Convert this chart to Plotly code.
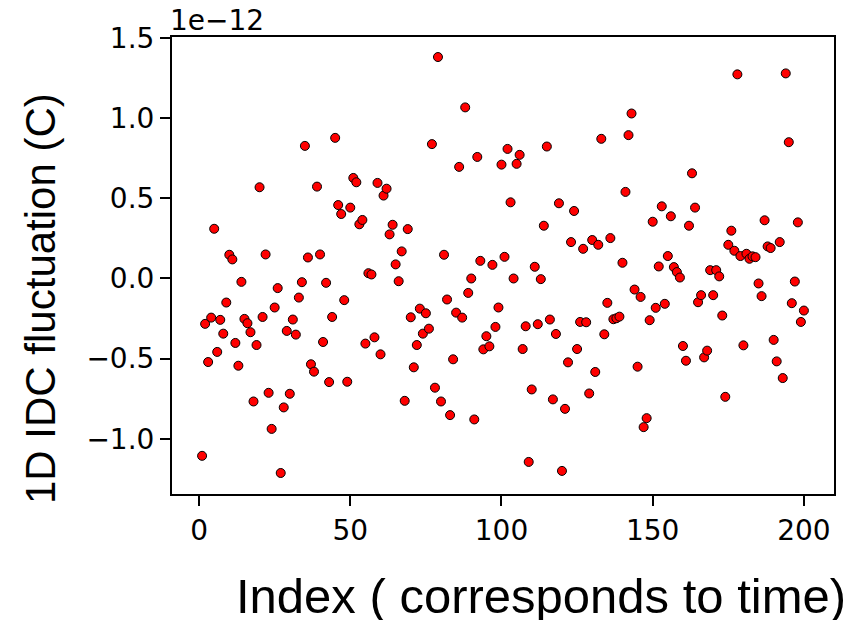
import plotly.graph_objects as go

# index (1..200) and fluctuation values in units of 1e-12 C
index = list(range(1, 201))
fluct = [
    -1.106, -0.283, -0.521, -0.244, 0.310, -0.458, -0.258, -0.344, -0.150, 0.148,
    0.119, -0.402, -0.544, -0.021, -0.252, -0.279, -0.335, -0.767, -0.415, 0.569,
    -0.240, 0.150, -0.713, -0.938, -0.181, -0.060, -1.213, -0.804, -0.327, -0.719,
    -0.256, -0.350, -0.119, -0.023, 0.827, 0.131, -0.535, -0.581, 0.573, 0.150,
    -0.396, -0.027, -0.646, -0.240, 0.877, 0.458, 0.402, -0.135, -0.644, 0.442,
    0.627, 0.600, 0.338, 0.365, -0.406, 0.033, 0.025, -0.367, 0.596, -0.473,
    0.517, 0.560, 0.275, 0.335, 0.088, -0.017, 0.169, -0.763, 0.308, -0.242,
    -0.554, -0.415, -0.188, -0.344, -0.217, -0.313, 0.838, -0.681, 1.381, -0.767,
    0.148, -0.131, -0.852, -0.504, -0.213, 0.696, -0.244, 1.067, -0.090, 0.000,
    -0.879, 0.758, 0.110, -0.442, -0.360, -0.423, 0.085, -0.302, -0.181, 0.710,
    0.135, 0.808, 0.475, 0.000, 0.715, 0.771, -0.440, -0.298, -1.144, -0.692,
    0.073, -0.285, -0.004, 0.329, 0.823, -0.256, -0.754, -0.346, 0.469, -1.200,
    -0.813, -0.523, 0.227, 0.421, -0.440, -0.271, 0.185, -0.273, -0.717, 0.240,
    -0.583, 0.210, 0.871, -0.348, -0.152, 0.252, -0.254, -0.248, -0.238, 0.098,
    0.540, 0.894, 1.029, -0.069, -0.550, -0.115, -0.927, -0.871, -0.260, 0.354,
    -0.183, 0.075, 0.450, -0.158, 0.140, 0.388, 0.071, 0.040, 0.006, -0.421,
    -0.513, 0.329, 0.656, 0.442, -0.148, -0.104, -0.492, -0.450, 0.052, -0.104,
    0.052, 0.013, -0.231, -0.738, 0.210, 0.298, 0.173, 1.273, 0.140, -0.417,
    0.154, 0.123, 0.138, 0.133, -0.031, -0.110, 0.363, 0.200, 0.190, -0.383,
    -0.517, 0.227, -0.621, 1.279, 0.850, -0.154, -0.019, 0.350, -0.271, -0.200,
]

x_ticks = [0, 50, 100, 150, 200]
y_ticks = [-1.0, -0.5, 0.0, 0.5, 1.0, 1.5]
x_title = "Index ( corresponds to time)"
y_title = "1D IDC fluctuation (C)"
scale_text = "1e\u221212"

fig = go.Figure()
fig.add_trace(go.Scatter(
    x=index, y=fluct, mode="markers",
    marker=dict(color="#ff0000", size=9, line=dict(color="black", width=1)),
    showlegend=False,
))

W, H = 863, 620
L, R, T, B = 172, 29, 37, 126
tickfont = dict(family="DejaVu Sans", size=28, color="black")
titlefont = "Liberation Sans"

fig.update_layout(
    width=W, height=H,
    margin=dict(l=L, r=R, t=T, b=B, autoexpand=False),
    paper_bgcolor="white", plot_bgcolor="white",
    xaxis=dict(
        range=[-8.95, 209.95], tickvals=x_ticks, ticks="outside",
        ticklen=10, tickwidth=2, tickcolor="black",
        showline=True, linecolor="black", linewidth=2, mirror=True,
        showgrid=False, zeroline=False, tickfont=tickfont,
    ),
    yaxis=dict(
        range=[-1.344, 1.506], tickvals=y_ticks, tickformat=".1f",
        ticks="outside", ticklen=10, tickwidth=2, tickcolor="black",
        showline=True, linecolor="black", linewidth=2, mirror=True,
        showgrid=False, zeroline=False, tickfont=tickfont,
    ),
    annotations=[
        dict(text=scale_text, xref="paper", yref="paper", x=0, y=1,
             xanchor="left", yanchor="bottom", showarrow=False,
             font=tickfont, yshift=-2, xshift=-4),
        dict(text=x_title, xref="paper", yref="paper",
             x=(541 - L) / (W - L - R), y=-(596 - (H - B)) / (H - T - B),
             xanchor="center", yanchor="middle", showarrow=False,
             font=dict(family=titlefont, size=49, color="black")),
        dict(text=y_title, xref="paper", yref="paper",
             x=-(L - 40) / (W - L - R), y=1 - (299 - T) / (H - T - B),
             xanchor="center", yanchor="middle", showarrow=False, textangle=-90,
             font=dict(family=titlefont, size=42, color="black")),
    ],
)

fig.write_html("out.html")
